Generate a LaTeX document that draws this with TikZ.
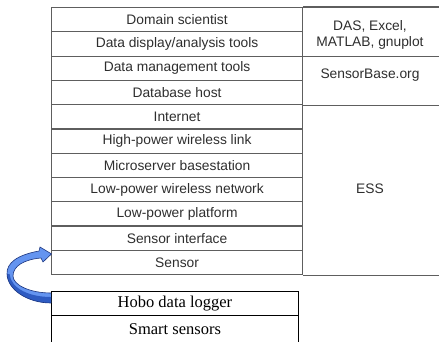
\documentclass[tikz,border=0pt]{standalone}
\usepackage{fontspec}
\setmainfont{Liberation Serif}
\setsansfont{Liberation Sans}
\definecolor{rulegray}{HTML}{5E5E5E}
\definecolor{textgray}{HTML}{2E2E2E}
\definecolor{arrowlight}{HTML}{6494F0}
\definecolor{arrowdark}{HTML}{2E5BC2}
\definecolor{arrowedge}{HTML}{1C357E}
\begin{document}
\begin{tikzpicture}[x=1pt,y=-1pt,
  layer/.style={draw=rulegray, line width=1.2pt, minimum width=251pt,
    minimum height=24.27pt, anchor=north west, inner sep=0pt,
    text=textgray, font=\sffamily\fontsize{13.8}{16}\selectfont},
  rule/.style={draw=rulegray, line width=1.2pt},
  tool/.style={inner sep=0pt, text=textgray, align=center,
    font=\sffamily\fontsize{13.8}{16}\selectfont},
  logcell/.style={draw=black, line width=0.9pt, minimum width=247pt,
    minimum height=24pt, anchor=north west, inner sep=0pt,
    font=\rmfamily\fontsize{16.5}{19}\selectfont}]
\useasboundingbox (0,0) rectangle (439,341);

% layered software/hardware stack
\foreach \t [count=\i] in {Domain scientist, Data display/analysis tools,
    Data management tools, Database host, Internet, High-power wireless link,
    Microserver basestation, Low-power wireless network, Low-power platform,
    Sensor interface, Sensor}
  \node[layer] (r\i) at (51,{7+24.27*(\i-1)}) {\t};

% right-hand column with the tools for each group of layers
\draw[rule] (r1.north east) -- ++(137,0);
\draw[rule] (r2.south east) -- ++(137,0);
\draw[rule] (r4.south east) -- ++(137,0);
\draw[rule] (r11.south east) -- ++(137,0);
\node[tool] (das) at (370,35) {DAS, Excel,\\MATLAB, gnuplot};
\node[tool] (sbase) at (370,75) {SensorBase.org};
\node[tool] (ess) at (370,189) {ESS};

% off-the-shelf equivalents
\node[logcell] (hobo) at (51,291) {Hobo data logger};
\node[logcell, minimum height=28pt] (smart) at (51,315) {Smart sensors};

% curved block arrow from the logger up to the sensor layers
\coordinate (tip) at ([xshift=0.5pt,yshift=-3pt]r10.south west);
\fill[arrowlight]
  ([yshift=-2pt]hobo.north west)
    .. controls (30,293) and (13,285) .. (13,276)
    .. controls (13,266) and (24,259.5) .. (41,258)
    -- (43,262) -- (tip) -- (40,247) -- (39,251)
    .. controls (17,255) and (6.5,263) .. (7,274)
    .. controls (7.5,290) and (28,303) .. ([yshift=-12pt]hobo.north west) -- cycle;
% darker underside of the ribbon
\fill[arrowdark]
  (7,274) .. controls (7.5,290) and (28,303) .. ([yshift=-12pt]hobo.north west)
    -- ([yshift=-6pt]hobo.north west)
    .. controls (30,297) and (11,289) .. (9.5,274) -- cycle;
\draw[arrowedge, line width=0.6pt, line join=round]
  ([yshift=-2pt]hobo.north west)
    .. controls (30,293) and (13,285) .. (13,276)
    .. controls (13,266) and (24,259.5) .. (41,258)
    -- (43,262) -- (tip) -- (40,247) -- (39,251)
    .. controls (17,255) and (6.5,263) .. (7,274)
    .. controls (7.5,290) and (28,303) .. ([yshift=-12pt]hobo.north west);
\end{tikzpicture}
\end{document}
